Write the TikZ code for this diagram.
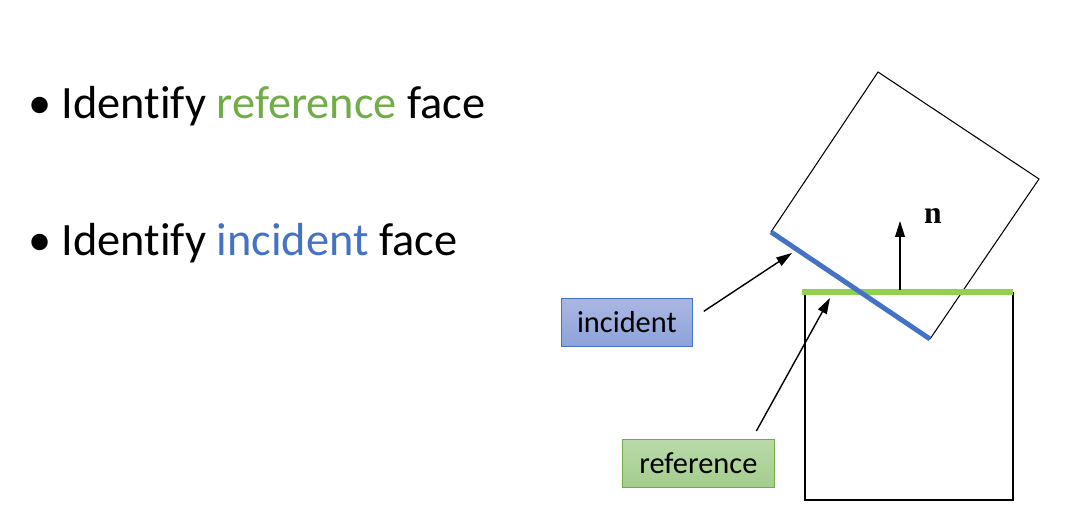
\documentclass[tikz,border=0pt]{standalone}
\usepackage{fontspec}
\setmainfont{Carlito}[Ligatures=NoCommon]
\newfontfamily\vecfont{Liberation Serif}
\usetikzlibrary{positioning,arrows.meta}
\definecolor{refgreen}{HTML}{70AD47}
\definecolor{facegreen}{HTML}{92D050}
\definecolor{incblue}{HTML}{4472C4}
\definecolor{inctop}{RGB}{170,183,226}
\definecolor{incbottom}{RGB}{142,163,218}
\definecolor{reftop}{RGB}{185,218,169}
\definecolor{refbottom}{RGB}{164,205,141}
\tikzset{
  bullettext/.style={anchor=base west, inner sep=0pt, font=\fontsize{26.4}{30}\selectfont},
  labelbox/.style={rectangle, minimum width=74.6pt, minimum height=27.3pt, anchor=north west,
        font=\fontsize{17.3}{20}\selectfont, text=black},
  pointer/.style={-{Triangle[length=9pt,width=5.5pt]}, line width=0.8pt},
  boxline/.style={line width=0.6pt}
}
\begin{document}
\begin{tikzpicture}[x=0.02cm,y=-0.02cm]
  \useasboundingbox (0,0) rectangle (1078,528);
  % bullets
  \node (first) [bullettext] at (28,118) {\textbullet\hspace{0.22em}Identify \textcolor{refgreen}{reference} face};
  \node (second) [bullettext] at (28,255) {\textbullet\hspace{0.22em}Identify \textcolor{incblue}{incident} face};
  % lower box, reference face on top
  \coordinate (lowtl) at (805,292);
  \coordinate (lowtr) at (1013,292);
  \draw[boxline] (lowtl) -- (805,500) -- (1013,500) -- (lowtr);
  % tilted box, incident face at its lower left
  \coordinate (tiltt) at (878,72);
  \coordinate (tiltr) at (1039,179);
  \coordinate (tiltb) at (930,339);
  \coordinate (tiltl) at (771,232);
  \draw[boxline] (tiltl) -- (tiltt) -- (tiltr) -- (tiltb);
  \draw[facegreen, line width=3.4pt] (802,292) -- (lowtr);
  \draw[incblue, line width=2.8pt] (tiltl) -- (tiltb);
  % normal
  \coordinate (nbase) at (900,290);
  \coordinate (ntip) at (900,221);
  \draw[pointer] (nbase) -- (ntip);
  \node (nlabel) at (933,216) {\vecfont\fontsize{18}{20}\selectfont\textbf{n}};
  % labels
  \node (incident) [labelbox, draw=incblue, top color=inctop, bottom color=incbottom] at (561,298) {incident};
  \node (reference) [labelbox, minimum width=86.5pt, draw=refgreen, top color=reftop, bottom color=refbottom] at (622,439) {reference};
  \coordinate (inctip) at (792,253);
  \coordinate (reftip) at (830,298);
  \draw[pointer] ([shift={(11,-11)}]incident.east) -- (inctip);
  \draw[pointer] ([shift={(58,-8)}]reference.north) -- (reftip);
\end{tikzpicture}
\end{document}
